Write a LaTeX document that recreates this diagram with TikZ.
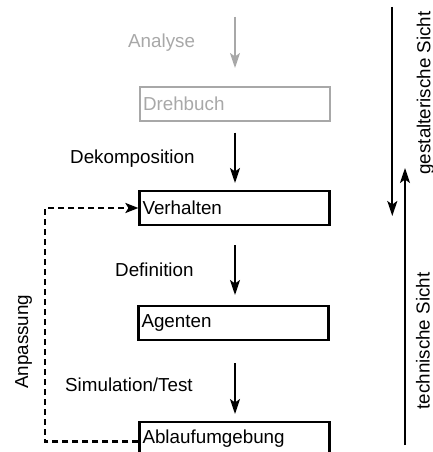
\documentclass[tikz,border=0pt]{standalone}
\usepackage{fontspec}
\setmainfont{Liberation Sans}
\usetikzlibrary{arrows.meta}
\definecolor{lightgray}{HTML}{A8A8A8}
\tikzset{
  every node/.style={font=\fontsize{18.8}{22}\selectfont},
  box/.style={draw=black, line width=2.2pt, minimum width=190pt, minimum height=34pt,
    text width=184pt, inner xsep=3pt, inner ysep=0pt, align=left},
  graybox/.style={box, draw=lightgray, text=lightgray},
  arr/.style={line width=1.8pt, -{Stealth[length=15pt,width=10pt,inset=3.5pt]}},
  grayarr/.style={arr, draw=lightgray, fill=lightgray},
  dasharr/.style={line width=2.2pt, dash pattern=on 6pt off 4pt, -{Stealth[length=13pt,width=10pt,inset=3pt]}},
  lbl/.style={anchor=base west, inner sep=0pt},
}
\begin{document}
\begin{tikzpicture}[x=1pt, y=-1pt]
\useasboundingbox (0,0) rectangle (433,452);
\begin{scope}
\clip (0,0) rectangle (433,452);
\node[graybox] (dreh) at (235,104) {Drehbuch};
\node[box] (verh) at (234.5,208) {Verhalten};
\node[box] (agen) at (233.5,323) {Agenten};
\node[box] (abl) at (234.5,438.7) {Ablaufumgebung};
\end{scope}

\node[lbl, text=lightgray] (lanalyse) at (128,47.7) {Analyse};
\node[lbl] (ldekomp) at (70,163.3) {Dekomposition};
\node[lbl] (ldef) at (115,276.3) {Definition};
\node[lbl] (lsim) at (65,391) {Simulation/Test};
\node[lbl, rotate=90] (lanp) at (28,389) {Anpassung};
\node[rotate=90, inner sep=0pt] (lgest) at (425.5,93) {gestalterische Sicht};
\node[rotate=90, inner sep=0pt] (ltech) at (423,341) {technische Sicht};

\coordinate (a1) at (235,17);
\coordinate (a2) at (235,68);
\coordinate (b1) at (235,132.7);
\coordinate (b2) at (235,183);
\coordinate (c1) at (235,245);
\coordinate (c2) at (235,295);
\coordinate (d1) at (235,363.3);
\coordinate (d2) at (235,414);
\coordinate (r1) at (392.3,7);
\coordinate (r2) at (392.3,216);
\coordinate (u1) at (405,445);
\coordinate (u2) at (405,168);
\coordinate (dl) at (45,441.5);

\draw[grayarr] (a1) -- (a2);
\draw[arr] (b1) -- (b2);
\draw[arr] (c1) -- (c2);
\draw[arr] (d1) -- (d2);
\draw[arr] (r1) -- (r2);
\draw[arr] (u1) -- (u2);

\draw[dasharr] (abl.west |- dl) -- (dl) |- (verh.west);
\end{tikzpicture}
\end{document}
